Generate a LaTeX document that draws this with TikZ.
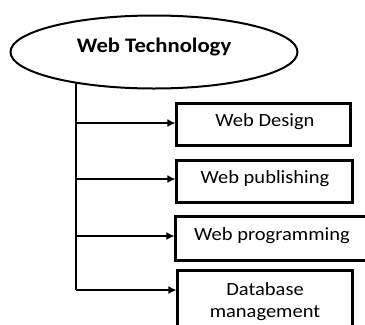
\documentclass[tikz,border=0pt]{standalone}
\usepackage{fontspec}
\setmainfont{Carlito}
\newfontfamily\boxfont[FakeStretch=1.1]{Carlito}
\usetikzlibrary{shapes.geometric,arrows.meta}
\begin{document}
\begin{tikzpicture}[x=1bp,y=-1bp,
  boxnode/.style={draw,line width=3bp,rectangle,inner sep=0pt},
  boxtext/.style={align=center,font=\boxfont\fontsize{18.7}{22}\selectfont},
  conn/.style={line width=2bp,-{Latex[length=8bp,width=8bp]}},
  trunk/.style={line width=2.2bp}]
\clip (0,0) rectangle (365,325);
\fill[white] (0,0) rectangle (365,325);
\node[draw,ellipse,line width=2bp,minimum width=287bp,minimum height=73bp,inner sep=0pt] (wt) at (154,52) {};
\node[font=\boxfont\bfseries\fontsize{20.7}{24}\selectfont] (wtl) at (154,47) {Web Technology};
\node[boxnode,minimum width=173bp,minimum height=42bp] (b1) at (263.5,124) {};
\node[boxtext] (t1) at (265,122) {Web Design};
\node[boxnode,minimum width=175bp,minimum height=42bp] (b2) at (264.5,181) {};
\node[boxtext] (t2) at (265,179) {Web publishing};
\node[boxnode,minimum width=194bp,minimum height=44bp] (b3) at (273,238) {};
\node[boxtext] (t3) at (272,236) {Web programming};
\node[boxnode,minimum width=174bp,minimum height=64bp] (b4) at (265,302) {};
\node[boxtext] (t4) at (265,302) {Database\\management};
\coordinate (top) at (76,83);
\coordinate (j1) at (76,123);
\coordinate (j2) at (76,179);
\coordinate (j3) at (76,236);
\coordinate (j4) at (76,290);
\draw[trunk] (top) -- (j4);
\draw[conn] (j1) -- (j1 -| b1.west);
\draw[conn] (j2) -- (j2 -| b2.west);
\draw[conn] (j3) -- (j3 -| b3.west);
\draw[conn] (j4) -- (j4 -| b4.west);
\end{tikzpicture}
\end{document}
